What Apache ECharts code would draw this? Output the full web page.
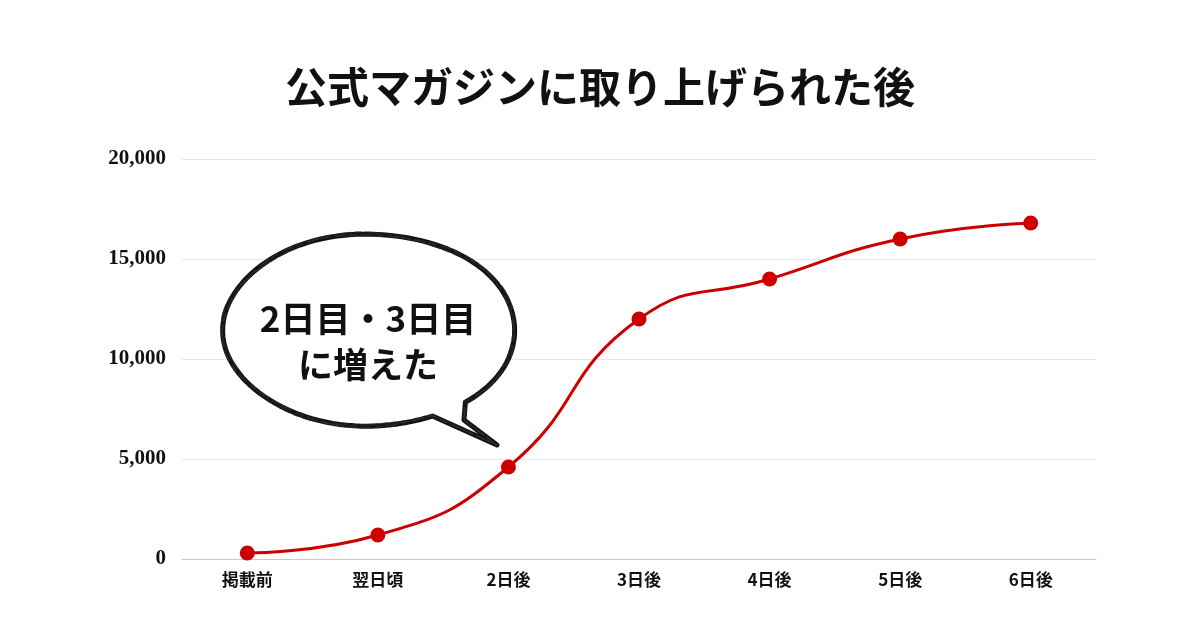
<!DOCTYPE html>
<html>
<head>
<meta charset="utf-8">
<script src="https://cdn.jsdelivr.net/npm/echarts@6/dist/echarts.min.js"></script>
<style>
  html, body { margin: 0; padding: 0; background: #fff; }
  #chart { width: 1200px; height: 629px; }
</style>
</head>
<body>
<div id="chart"></div>
<script>
// データ
const categories = ['掲載前', '翌日頃', '2日後', '3日後', '4日後', '5日後', '6日後'];
const values = [300, 1200, 4600, 12000, 14000, 16000, 16800];
const titleText = '公式マガジンに取り上げられた後';
const bubbleLines = ['2日目・3日目', 'に増えた'];

const chart = echarts.init(document.getElementById('chart'));

// 吹き出しの輪郭（楕円＋しっぽ）。wob で少し揺らして手描き風に
function bubblePoints(cx, cy, rx, ry, wob, phase) {
  const pts = [];
  const t0 = 0.85, t1 = 1.12 - Math.PI * 2;
  const n = 120;
  for (let i = 0; i <= n; i++) {
    const t = t0 + (t1 - t0) * i / n;
    const w = wob * Math.sin(i * 0.25 + phase);
    pts.push([cx + (rx + w) * Math.cos(t), cy + (ry + w) * Math.sin(t)]);
  }
  pts.push([497, 445]);
  pts.push([464, 420]);
  return pts;
}

const option = {
  backgroundColor: '#fff',
  animation: false,
  title: {
    text: titleText,
    left: 'center',
    top: 61,
    textStyle: {
      fontFamily: 'Noto Sans CJK JP',
      fontWeight: 'bold',
      fontSize: 42,
      color: '#111'
    }
  },
  grid: {
    left: 182,
    right: 104,
    top: 159,
    bottom: 70
  },
  xAxis: {
    type: 'category',
    data: categories,
    boundaryGap: true,
    axisTick: { show: false },
    axisLine: { lineStyle: { color: '#c8c8c8', width: 1 } },
    axisLabel: {
      color: '#111',
      fontFamily: 'Noto Sans CJK JP',
      fontWeight: 'bold',
      fontSize: 17,
      margin: 12
    }
  },
  yAxis: {
    type: 'value',
    min: 0,
    max: 20000,
    interval: 5000,
    axisLine: { show: false },
    axisTick: { show: false },
    axisLabel: {
      color: '#111',
      fontFamily: 'Liberation Serif',
      fontWeight: 'bold',
      fontSize: 21,
      margin: 16,
      formatter: v => v.toLocaleString('en-US')
    },
    splitLine: { lineStyle: { color: '#e8e8e8' } }
  },
  series: [
    {
      type: 'line',
      data: values,
      smooth: true,
      symbol: 'circle',
      symbolSize: 15,
      lineStyle: { color: '#cc0000', width: 3 },
      itemStyle: { color: '#cc0000' },
      z: 3
    }
  ],
  graphic: [
    {
      type: 'polygon',
      shape: { points: bubblePoints(369, 330, 146, 96, 0.4, 0) },
      style: { fill: '#fff', stroke: '#111', lineWidth: 5, lineJoin: 'round' },
      z: 10
    },
    {
      type: 'polygon',
      shape: { points: bubblePoints(369, 330, 146, 96, 1.8, 1.3) },
      style: { fill: null, stroke: '#222', lineWidth: 2.2, opacity: 0.8, lineDash: [18, 3, 7, 2], lineJoin: 'round' },
      z: 11
    },
    {
      type: 'polygon',
      shape: { points: bubblePoints(369, 330, 146, 96, -1.6, 2.6) },
      style: { fill: null, stroke: '#333', lineWidth: 1.8, opacity: 0.65, lineDash: [9, 2, 12, 4], lineJoin: 'round' },
      z: 11
    },
    {
      type: 'text',
      x: 368,
      y: 319,
      style: {
        text: bubbleLines[0],
        fontFamily: 'Noto Sans CJK JP',
        fontWeight: 'bold',
        fontSize: 35,
        fill: '#111',
        align: 'center',
        verticalAlign: 'middle'
      },
      z: 12
    },
    {
      type: 'text',
      x: 368,
      y: 365,
      style: {
        text: bubbleLines[1],
        fontFamily: 'Noto Sans CJK JP',
        fontWeight: 'bold',
        fontSize: 35,
        fill: '#111',
        align: 'center',
        verticalAlign: 'middle'
      },
      z: 12
    }
  ]
};

chart.setOption(option);
</script>
</body>
</html>
